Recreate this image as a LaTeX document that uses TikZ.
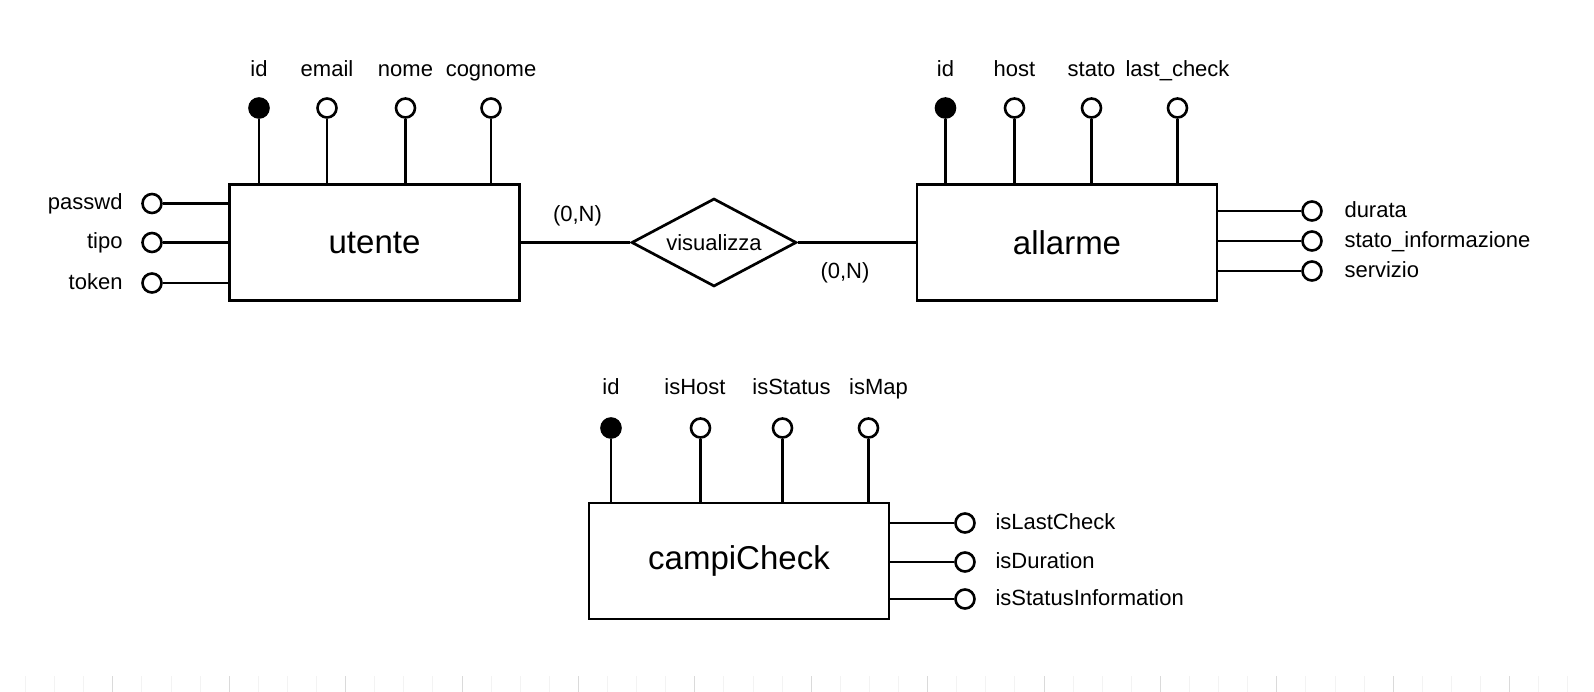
\documentclass[tikz,border=0pt]{standalone}
\usepackage{fontspec}
\setmainfont{Liberation Sans}
\usetikzlibrary{positioning, shapes.geometric}

\definecolor{TickLight}{HTML}{F3F3F3}
\definecolor{TickDark}{HTML}{DADADA}

\begin{document}
\begin{tikzpicture}[x=1pt, y=-1pt,
    entity/.style={draw, line width=2.7pt, minimum width=300pt, minimum height=116pt,
        inner sep=0pt, font=\fontsize{33}{40}\selectfont},
    relation/.style={draw, diamond, aspect=2, line width=2.7pt, inner sep=0pt,
        minimum width=165pt, minimum height=88pt, font=\fontsize{22}{26}\selectfont},
    attr/.style={circle, draw, line width=2.6pt, inner sep=0pt, minimum size=19pt},
    attrlabel/.style={inner sep=0pt, text height=16pt, text depth=3pt,
        font=\fontsize{22}{26}\selectfont},
    link/.style={line width=2.7pt}]

    \useasboundingbox (0,0) rectangle (1594,692);

    % ruler ticks
    \foreach \k in {0,...,54} {
        \draw[TickLight, line width=1pt] (25.5+29.1*\k,676) -- (25.5+29.1*\k,692);
    }
    \foreach \k in {3,7,...,51} {
        \draw[TickDark, line width=1pt] (25.5+29.1*\k,676) -- (25.5+29.1*\k,692);
    }

    % Entities
    \node[entity, minimum width=290pt] (utente) at (374.5,242.5) {utente};
    \node[entity] (allarme) at (1067,242.5) {allarme};
    \node[entity] (campi) at (739,561) {campiCheck};

    % Relationship
    \node[relation] (vis) at (714,242.5) {visualizza};
    \draw[link] (utente.east) -- (vis.west);
    \draw[link] (vis.east) -- (allarme.west);
    \node[attrlabel] (card-u) at (577.5,215.5) {(0,N)};
    \node[attrlabel] (card-a) at (845,272.5) {(0,N)};

    % utente
    \foreach \nm/\xx/\fc in {id/259/black, email/327/white, nome/405.5/white, cognome/491/white} {
        \node[attr, fill=\fc] (u-\nm) at (\xx,108) {};
        \node[attrlabel, above=17pt of u-\nm] (u-\nm-txt) {\nm};
        \draw[link] (u-\nm) -- (u-\nm |- utente.north);
    }
    \foreach \nm/\yy in {passwd/203.5, tipo/242.5, token/283} {
        \node[attr, fill=white] (u-\nm) at (152,\yy) {};
        \node[attrlabel, left=18.5pt of u-\nm] (u-\nm-txt) {\nm};
        \draw[link] (u-\nm) -- (u-\nm -| utente.west);
    }

    % allarme
    \foreach \nm/\xx/\fc/\txt in {id/945.5/black/id, host/1014.5/white/host,
            stato/1091.5/white/stato, check/1177.5/white/last\_check} {
        \node[attr, fill=\fc] (a-\nm) at (\xx,108) {};
        \node[attrlabel, above=17pt of a-\nm] (a-\nm-txt) {\txt};
        \draw[link] (a-\nm) -- (a-\nm |- allarme.north);
    }
    \foreach \nm/\yy/\txt in {durata/211/durata, info/241/stato\_informazione, servizio/271/servizio} {
        \node[attr, fill=white] (a-\nm) at (1312,\yy) {};
        \node[attrlabel, right=21.5pt of a-\nm] (a-\nm-txt) {\txt};
        \draw[link] (a-\nm) -- (a-\nm -| allarme.east);
    }

    % campiCheck
    \foreach \nm/\xx/\fc/\dx in {id/611/black/0, isHost/700.5/white/-5.5,
            isStatus/782.5/white/9, isMap/868.5/white/10} {
        \node[attr, fill=\fc] (c-\nm) at (\xx,428) {};
        \node[attrlabel, above=19.5pt of c-\nm, xshift=\dx pt] (c-\nm-txt) {\nm};
        \draw[link] (c-\nm) -- (c-\nm |- campi.north);
    }
    \foreach \nm/\yy in {isLastCheck/523, isDuration/562, isStatusInformation/599} {
        \node[attr, fill=white] (c-\nm) at (965,\yy) {};
        \node[attrlabel, right=19.5pt of c-\nm] (c-\nm-txt) {\nm};
        \draw[link] (c-\nm) -- (c-\nm -| campi.east);
    }

\end{tikzpicture}
\end{document}
